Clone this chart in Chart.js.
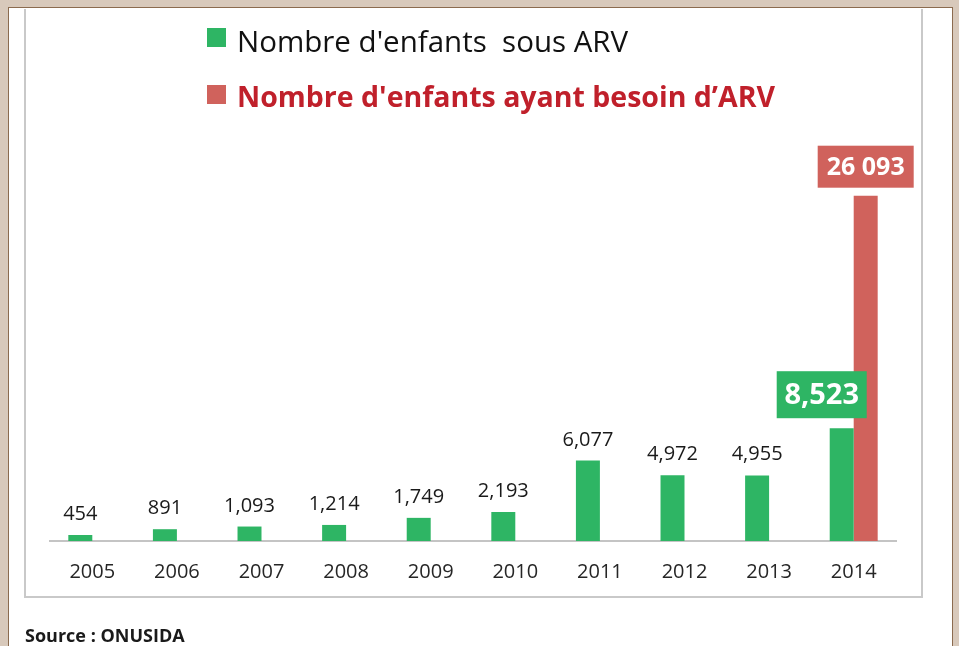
<!DOCTYPE html>
<html>
<head>
<meta charset="utf-8">
<script src="https://cdn.jsdelivr.net/npm/chart.js@4"></script>
<style>
  body { margin: 0; }
  #page { position: relative; width: 959px; height: 646px; background: #d8c9bb; overflow: hidden; font-family: "Open Sans", sans-serif; }
  #paper { position: absolute; left: 8px; top: 7px; width: 943px; height: 700px; background: #fff; border: 1px solid #8b6b4f; }
  #frame { position: absolute; left: 24px; top: 9px; width: 895px; height: 587px; border-left: 2px solid #c9c9c9; border-right: 2px solid #c9c9c9; border-bottom: 2px solid #c9c9c9; }
  #chart { position: absolute; left: 0; top: 0; }
  .leg { position: absolute; left: 207px; white-space: pre; }
  .leg .sw { position: absolute; left: 0; width: 19px; height: 19px; }
  .leg .tx { position: absolute; left: 30px; }
  #source { position: absolute; left: 25px; top: 623px; font-weight: bold; font-size: 18px; color: #1a1a1a; }
</style>
</head>
<body>
<div id="page">
  <div id="paper"></div>
  <div id="frame"></div>
  <canvas id="chart" width="959" height="646"></canvas>
  <div class="leg" id="leg1" style="top:28px"><div class="sw" style="background:#2eb564"></div><div class="tx" style="top:-8px;font-size:29.5px;color:#111">Nombre d'enfants  sous ARV</div></div>
  <div class="leg" id="leg2" style="top:85px"><div class="sw" style="background:#d0625c"></div><div class="tx" style="top:-8px;font-size:28.5px;font-weight:bold;color:#c0202b">Nombre d'enfants ayant besoin d’ARV</div></div>
  <div id="source">Source : ONUSIDA</div>
</div>
<script>
var years = ['2005', '2006', '2007', '2008', '2009', '2010', '2011', '2012', '2013', '2014'];
var enfantsSousArv = [454, 891, 1093, 1214, 1749, 2193, 6077, 4972, 4955, 8523];
var enfantsBesoinArv = [null, null, null, null, null, null, null, null, null, 26093];

var GREEN = '#2eb564';
var RED = '#d0625c';

function formatComma(v) {
  return v.toLocaleString('en-US');
}

function formatSpace(v) {
  return v.toLocaleString('en-US').replace(/,/g, ' ');
}

// draws the numbers over the bars, the last one of each series in a coloured box
var valueLabels = {
  id: 'valueLabels',
  afterDatasetsDraw: function (chart, args, opts) {
    var ctx = chart.ctx;
    chart.data.datasets.forEach(function (ds, di) {
      var meta = chart.getDatasetMeta(di);
      var style = opts.styles[di];
      meta.data.forEach(function (bar, i) {
        var v = ds.data[i];
        if (v == null) return;
        var text = style.format(v);
        ctx.save();
        ctx.textAlign = 'center';
        if (i === ds.data.length - 1) {
          var cx = bar.x + style.boxShift;
          var bottom = bar.y - style.boxGap;
          ctx.fillStyle = ds.backgroundColor;
          ctx.fillRect(cx - style.boxW / 2, bottom - style.boxH, style.boxW, style.boxH);
          ctx.font = 'bold ' + style.boxFont + 'px "Open Sans"';
          ctx.fillStyle = '#fff';
          ctx.textBaseline = 'middle';
          ctx.fillText(text, cx, bottom - style.boxH / 2 + 1);
        } else {
          ctx.font = '20px "Open Sans"';
          ctx.fillStyle = '#1a1a1a';
          ctx.textBaseline = 'alphabetic';
          ctx.fillText(text, bar.x, bar.y - 15);
        }
        ctx.restore();
      });
    });
  }
};

var ctx = document.getElementById('chart').getContext('2d');
var chart = new Chart(ctx, {
  type: 'bar',
  data: {
    labels: years,
    datasets: [{
      label: "Nombre d'enfants sous ARV",
      data: enfantsSousArv,
      backgroundColor: GREEN
    }, {
      label: "Nombre d'enfants ayant besoin d’ARV",
      data: enfantsBesoinArv,
      backgroundColor: RED
    }]
  },
  options: {
    responsive: false,
    animation: false,
    categoryPercentage: 0.567,
    barPercentage: 1,
    layout: {
      padding: { left: 50, right: 63, top: 144, bottom: 45 }
    },
    plugins: {
      legend: { display: false },
      tooltip: { enabled: false },
      valueLabels: {
        styles: [
          { format: formatComma, boxShift: -20, boxGap: 10, boxW: 90, boxH: 47, boxFont: 29 },
          { format: formatSpace, boxShift: 0, boxGap: 8, boxW: 96, boxH: 42, boxFont: 25 }
        ]
      }
    },
    scales: {
      x: {
        grid: { display: false, drawTicks: false },
        border: { display: true, color: '#c4c4c4', width: 2 },
        ticks: {
          color: '#262626',
          padding: 19,
          font: { family: 'Open Sans', size: 20 }
        },
        afterFit: function (scale) {
          scale.height = 60;
        }
      },
      y: {
        display: false,
        min: 0,
        max: 30000
      }
    }
  },
  plugins: [valueLabels]
});
</script>
</body>
</html>
